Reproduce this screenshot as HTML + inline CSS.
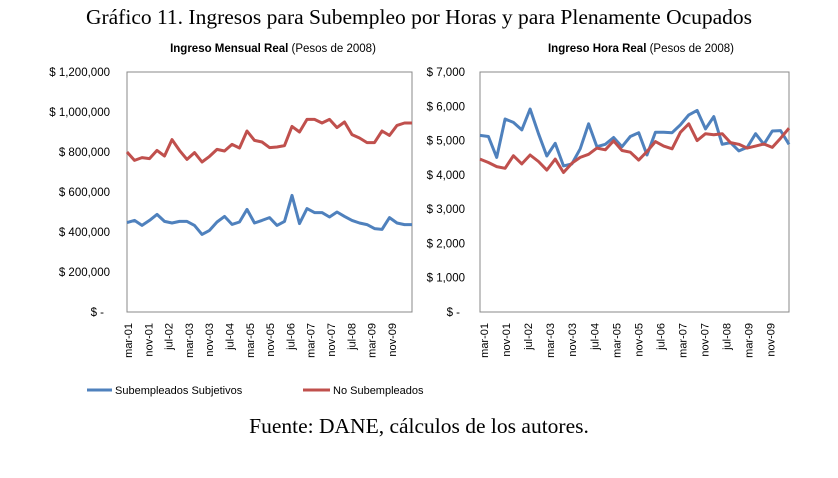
<!DOCTYPE html>
<html><head><meta charset="utf-8"><style>
body{margin:0;background:#fff;width:838px;height:473px;overflow:hidden}
</style></head><body>
<svg id="s" width="838" height="473" xmlns="http://www.w3.org/2000/svg" font-family="Liberation Sans, sans-serif">
<text x="419" y="24" text-anchor="middle" font-family="Liberation Serif, serif" font-size="21.5">Gráfico 11. Ingresos para Subempleo por Horas y para Plenamente Ocupados</text>
<text x="273" y="52" text-anchor="middle" font-size="11.5"><tspan font-weight="bold">Ingreso Mensual Real</tspan> (Pesos de 2008)</text>
<text x="641" y="52" text-anchor="middle" font-size="11.5"><tspan font-weight="bold">Ingreso Hora Real</tspan> (Pesos de 2008)</text>
<rect x="127" y="72" width="285" height="240" fill="none" stroke="#888" stroke-width="1"/>
<rect x="480" y="72" width="309" height="240" fill="none" stroke="#888" stroke-width="1"/>
<g id="g"></g>
<line x1="87" y1="390" x2="112" y2="390" stroke="#4F81BD" stroke-width="3"/>
<text x="115" y="394" font-size="11">Subempleados Subjetivos</text>
<line x1="303" y1="390" x2="330" y2="390" stroke="#C0504D" stroke-width="3"/>
<text x="333" y="394" font-size="11">No Subempleados</text>
<text x="419" y="433" text-anchor="middle" font-family="Liberation Serif, serif" font-size="21.5">Fuente: DANE, cálculos de los autores.</text>
</svg>
<script>
var g=document.getElementById('g'),h='';
var lr=[800,758,772,767,808,780,862,808,763,797,750,778,813,805,838,820,905,858,850,822,825,832,928,900,963,963,945,963,922,950,887,870,847,847,905,883,933,945,945];
var lb=[447,458,433,458,488,453,445,453,453,433,388,408,450,478,438,450,513,445,458,472,433,453,583,442,517,497,497,475,500,478,458,445,437,417,413,472,445,437,437];
var rb=[5150,5120,4510,5630,5530,5310,5920,5200,4550,4920,4260,4320,4760,5490,4820,4890,5090,4820,5120,5230,4580,5240,5240,5230,5460,5750,5880,5340,5700,4890,4940,4700,4800,5200,4890,5280,5290,4890];
var rr=[4460,4360,4240,4190,4560,4320,4580,4390,4140,4460,4070,4340,4510,4600,4780,4730,4990,4710,4660,4430,4680,4970,4840,4760,5240,5490,5000,5200,5170,5200,4940,4890,4780,4840,4900,4800,5070,5360];
function path(d,x0,x1,max,c){var n=d.length,p='';for(var i=0;i<n;i++){var x=x0+(x1-x0)*i/(n-1),y=312-240*d[i]/max;p+=(i?'L':'M')+x.toFixed(1)+' '+y.toFixed(1);}
return '<path d="'+p+'" fill="none" stroke="'+c+'" stroke-width="3" stroke-linejoin="round"/>';}
h+=path(lb,127,412,1200,'#4F81BD')+path(lr,127,412,1200,'#C0504D');
h+=path(rb,480,789,7000,'#4F81BD')+path(rr,480,789,7000,'#C0504D');
var yl=['$ -','$ 200,000','$ 400,000','$ 600,000','$ 800,000','$ 1,000,000','$ 1,200,000'];
for(var i=0;i<7;i++){var y=312-40*i+4;h+='<text x="'+(i==0?104:110)+'" y="'+y+'" text-anchor="end" font-size="11.5">'+yl[i]+'</text>';}
for(var i=0;i<8;i++){var y=312-240/7*i+4;h+='<text x="'+(i==0?460:465)+'" y="'+y.toFixed(1)+'" text-anchor="end" font-size="11.5">'+(i==0?'$ -':'$ '+i+',000')+'</text>';}
var xl=['mar-01','nov-01','jul-02','mar-03','nov-03','jul-04','mar-05','nov-05','jul-06','mar-07','nov-07','jul-08','mar-09','nov-09'];
for(var i=0;i<14;i++){var x=128+20.3*i+4;h+='<text transform="translate('+x+',323) rotate(-90)" text-anchor="end" font-size="11">'+xl[i]+'</text>';
x=484+22.05*i+4;h+='<text transform="translate('+x+',323) rotate(-90)" text-anchor="end" font-size="11">'+xl[i]+'</text>';}
g.innerHTML=h;
</script>
</body></html>
